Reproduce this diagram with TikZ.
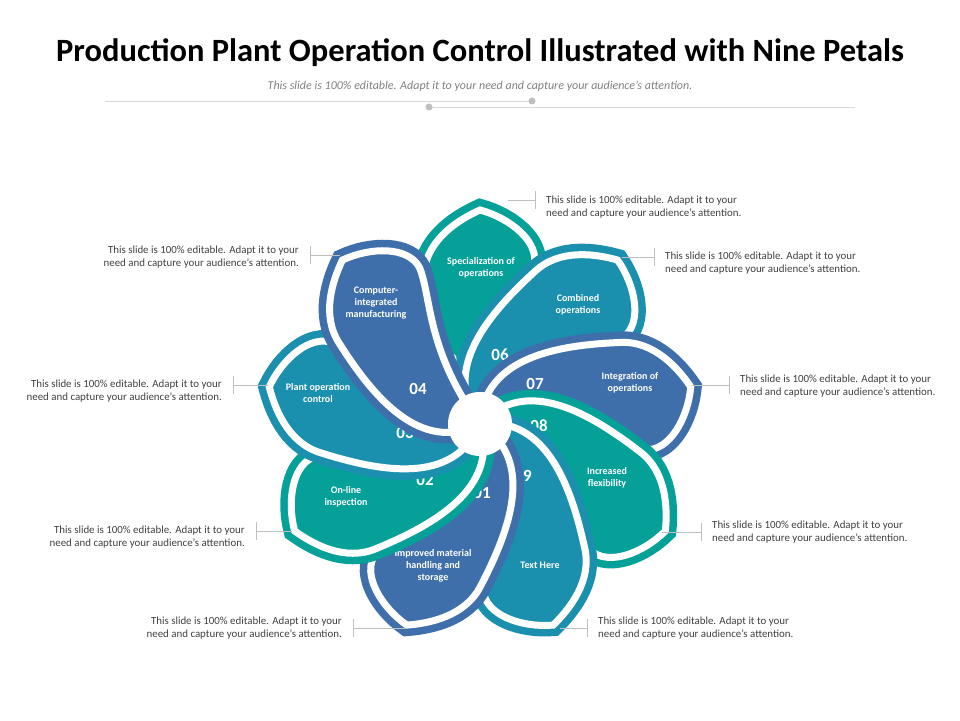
\documentclass[tikz,border=0pt]{standalone}
\usepackage{fontspec}
\setmainfont{Carlito}
\definecolor{teal1}{HTML}{05A199}
\definecolor{ocean}{HTML}{1A8FAE}
\definecolor{blue1}{HTML}{3F6FAB}
\definecolor{note}{HTML}{404040}
\definecolor{rule}{HTML}{BFBFBF}

\tikzset{
  petalrim/.style={line width=22pt, line join=miter, draw=#1, fill=#1},
  petalgap/.style={line width=7pt, line join=miter, draw=white, fill=#1},
  petaltext/.style={text=white, font=\fontsize{10}{12}\selectfont\bfseries, align=center},
  petalnum/.style={text=white, font=\fontsize{17}{20}\selectfont\bfseries},
  notetext/.style={text=note, font=\fontsize{10.9}{13}\selectfont, align=left, inner sep=0pt},
  leader/.style={draw=rule, line width=0.8pt},
}
\newcommand{\petalpath}{(0,0) .. controls (15,66) and (92,64) .. (152,56)
  .. controls (186,52) and (205,20) .. (214,0)
  .. controls (206,-30) and (182,-60) .. (158,-54)
  .. controls (128,-44) and (90,-6) .. (0,0) -- cycle}

\begin{document}
\begin{tikzpicture}[x=1pt, y=1pt]
  \useasboundingbox (0,0) rectangle (960,720);

  % title
  \node[font=\fontsize{32.5}{38}\selectfont\bfseries] (title) at (480,667)
    {Production Plant Operation Control Illustrated with Nine Petals};
  \node[text=gray, font=\fontsize{12}{14}\selectfont\itshape] (sub) at (480,634)
    {This slide is 100\% editable. Adapt it to your need and capture your audience's attention.};
  \coordinate (r1a) at (105,619);
  \coordinate (r1b) at (532,619);
  \coordinate (r2a) at (429,613);
  \coordinate (r2b) at (855,613);
  \draw[rule!60, line width=0.8pt] (r1a) -- (r1b);
  \draw[rule!60, line width=0.8pt] (r2a) -- (r2b);
  \fill[rule] (r1b) circle (3.5);
  \fill[rule] (r2a) circle (3.5);

  % petals, drawn in stacking order
  \foreach \ang/\col/\num/\nx/\ny/\lx/\ly/\txt in {
      90/teal1/05/457/360/481/268/{Specialization of\\operations},
      50/ocean/06/500/355/578/305/{Combined\\operations},
      10/blue1/07/535/384/630/383/{Integration of\\operations},
     -30/teal1/08/539/426/607/478/{Increased\\flexibility},
     -70/ocean/09/523/476/540/565/{Text Here},
    -110/blue1/01/482/493/433/566/{Improved material\\handling and\\storage},
    -150/teal1/02/425/480/346/497/{On-line\\inspection},
     170/ocean/03/405/433/318/393/{Plant operation\\control},
     130/blue1/04/418/389/376/303/{Computer-\\integrated\\manufacturing}} {
    \begin{scope}[shift={(480,296)}, rotate=\ang]
      \path[petalrim=\col] \petalpath;
      \path[petalgap=\col] \petalpath;
    \end{scope}
    \node[petalnum] (num\num) at (\nx,720-\ny) {\num};
    \node[petaltext] (lab\num) at (\lx,720-\ly) {\txt};
  }
  \fill[white] (480,296) circle (32);

  % callouts on the right
  \node[notetext, anchor=west] (n05) at (546,513)
    {This slide is 100\% editable. Adapt it to your\\need and capture your audience's attention.};
  \node[notetext, anchor=west] (n06) at (665,457)
    {This slide is 100\% editable. Adapt it to your\\need and capture your audience's attention.};
  \node[notetext, anchor=west] (n07) at (740,334)
    {This slide is 100\% editable. Adapt it to your\\need and capture your audience's attention.};
  \node[notetext, anchor=west] (n08) at (712,188)
    {This slide is 100\% editable. Adapt it to your\\need and capture your audience's attention.};
  \node[notetext, anchor=west] (n09) at (598,92)
    {This slide is 100\% editable. Adapt it to your\\need and capture your audience's attention.};
  % callouts on the left
  \node[notetext, anchor=east, align=right] (n04) at (299,463)
    {This slide is 100\% editable. Adapt it to your\\need and capture your audience's attention.};
  \node[notetext, anchor=east, align=right] (n03) at (222,329)
    {This slide is 100\% editable. Adapt it to your\\need and capture your audience's attention.};
  \node[notetext, anchor=east, align=right] (n02) at (245,183)
    {This slide is 100\% editable. Adapt it to your\\need and capture your audience's attention.};
  \node[notetext, anchor=east, align=right] (n01) at (342,92)
    {This slide is 100\% editable. Adapt it to your\\need and capture your audience's attention.};

  \coordinate (p05) at (508,520);
  \coordinate (p06) at (622,463);
  \coordinate (p07) at (692,335);
  \coordinate (p08) at (662,188);
  \coordinate (p09) at (560,92);
  \coordinate (p04) at (340,465);
  \coordinate (p03) at (268,335);
  \coordinate (p02) at (292,189);
  \coordinate (p01) at (405,92);

  \foreach \k in {05,06,07,08,09} {
    \draw[leader] (p\k) -- ([xshift=-11pt]p\k -| n\k.west)
      ++(0,-9) -- ++(0,18);
  }
  \foreach \k in {04,03,02,01} {
    \draw[leader] (p\k) -- ([xshift=11pt]p\k -| n\k.east)
      ++(0,-9) -- ++(0,18);
  }
\end{tikzpicture}
\end{document}
